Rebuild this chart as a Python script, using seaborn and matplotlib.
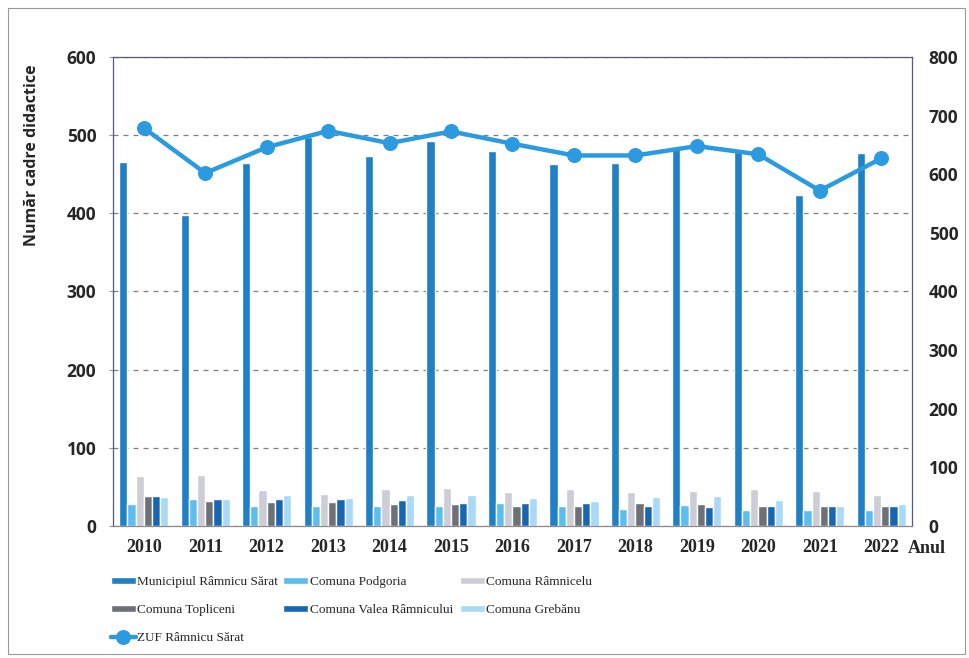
import numpy as np
import pandas as pd
import matplotlib
matplotlib.use("Agg")
import matplotlib.pyplot as plt
import seaborn as sns
from matplotlib.patches import Rectangle

# Date
ani = ['2010', '2011', '2012', '2013', '2014', '2015', '2016',
       '2017', '2018', '2019', '2020', '2021', '2022']
municipiul = [466, 398, 464, 498, 473, 493, 480, 463, 465, 483, 480, 424, 477]
podgoria = [28, 35, 26, 26, 26, 26, 29, 26, 22, 27, 20, 20, 20]
ramnicelu = [64, 65, 46, 41, 47, 48, 44, 47, 43, 45, 47, 45, 40]
topliceni = [38, 32, 31, 31, 28, 28, 26, 26, 30, 28, 25, 25, 25]
valea = [39, 35, 34, 34, 33, 30, 29, 29, 26, 24, 25, 25, 25]
grebanu = [37, 34, 40, 36, 40, 40, 36, 32, 37, 38, 33, 25, 28]
zuf = [679, 602, 646, 674, 653, 673, 652, 632, 632, 648, 634, 572, 627]

serii = ['Municipiul Râmnicu Sărat', 'Comuna Podgoria', 'Comuna Râmnicelu',
         'Comuna Topliceni', 'Comuna Valea Râmnicului', 'Comuna Grebănu']
culori = ['#1f80c6', '#5cbdf0', '#cdcdd8', '#6d7077', '#1666b2', '#a9d9f6']
culoare_linie = '#2a9be0'

valori = [municipiul, podgoria, ramnicelu, topliceni, valea, grebanu]
df = pd.DataFrame({
    'An': np.tile(ani, len(serii)),
    'Serie': np.repeat(serii, len(ani)),
    'Valoare': np.concatenate(valori),
})

sns.set_style('white')

fig = plt.figure(figsize=(9.7, 6.58), dpi=100)
ax = fig.add_axes([0.1165, 0.2006, 0.8237, 0.7128])

sns.barplot(data=df, x='An', y='Valoare', hue='Serie', order=ani,
            hue_order=serii, palette=culori, saturation=1, width=0.8,
            ax=ax)
ax.set_axisbelow(True)
ax.set_ylim(0, 600)
ax.set_xlim(-0.5, len(ani) - 0.5)
ax.set_yticks(range(0, 601, 100))
ax.yaxis.grid(True, linestyle=(0, (4, 4)), color='#7f7f7f', linewidth=0.9)
ax.xaxis.grid(False)
ax.set_xlabel('')
ax.set_ylabel('Număr cadre didactice', fontsize=11.5, fontweight='bold',
              family='Open Sans')
ax.yaxis.set_label_coords(-0.091, 0.79)
for sp in ax.spines.values():
    sp.set_color('#55597a')
    sp.set_linewidth(0.9)
ax.spines['bottom'].set_color('#8a8a8a')
ax.tick_params(axis='y', length=3, color='#999999', pad=9)
ax.tick_params(axis='x', length=0, pad=9)
for t in ax.get_yticklabels():
    t.set_fontsize(12.5)
    t.set_fontweight('bold')
    t.set_family('Open Sans')
for t in ax.get_xticklabels():
    t.set_fontsize(13)
    t.set_fontweight('bold')
    t.set_family('Liberation Serif')

handles, labels = ax.get_legend_handles_labels()
ax.get_legend().remove()

# linia ZUF pe axa secundara
ax2 = ax.twinx()
sns.lineplot(x=np.arange(len(ani)), y=zuf, ax=ax2, color=culoare_linie,
             linewidth=3.2, marker='o', markersize=10,
             markeredgecolor=culoare_linie, label='ZUF Râmnicu Sărat')
ax2.set_ylim(0, 800)
ax2.set_yticks(range(0, 801, 100))
ax2.set_xlim(-0.5, len(ani) - 0.5)
ax2.grid(False)
for sp in ax2.spines.values():
    sp.set_visible(False)
ax2.tick_params(axis='y', length=0, pad=12)
for t in ax2.get_yticklabels():
    t.set_fontsize(12.5)
    t.set_fontweight('bold')
    t.set_family('Open Sans')
h2, l2 = ax2.get_legend_handles_labels()
ax2.get_legend().remove()

fig.text(0.936, 0.167, 'Anul', fontsize=13, fontweight='bold',
         family='Liberation Serif', ha='left', va='center')

# legenda: trei coloane, fiecare o legenda separata
toate_h = handles + h2
toate_l = labels + l2
coloane = [([0, 3, 6], 0.114), ([1, 4], 0.292), ([2, 5], 0.474)]
for idx, x0 in coloane:
    lg = fig.legend([toate_h[i] for i in idx], [toate_l[i] for i in idx],
                    loc='upper left', bbox_to_anchor=(x0, 0.124), ncol=1,
                    frameon=False,
                    prop={'family': 'Liberation Serif', 'size': 9.5},
                    handlelength=1.9, handleheight=0.5, handletextpad=0.1,
                    labelspacing=1.2, borderaxespad=0, borderpad=0)

fig.patches.append(Rectangle((0.008, 0.006), 0.987, 0.982, transform=fig.transFigure,
                             fill=False, edgecolor='#9a9a9a', linewidth=0.8))

fig.savefig('out.png', dpi=100)
